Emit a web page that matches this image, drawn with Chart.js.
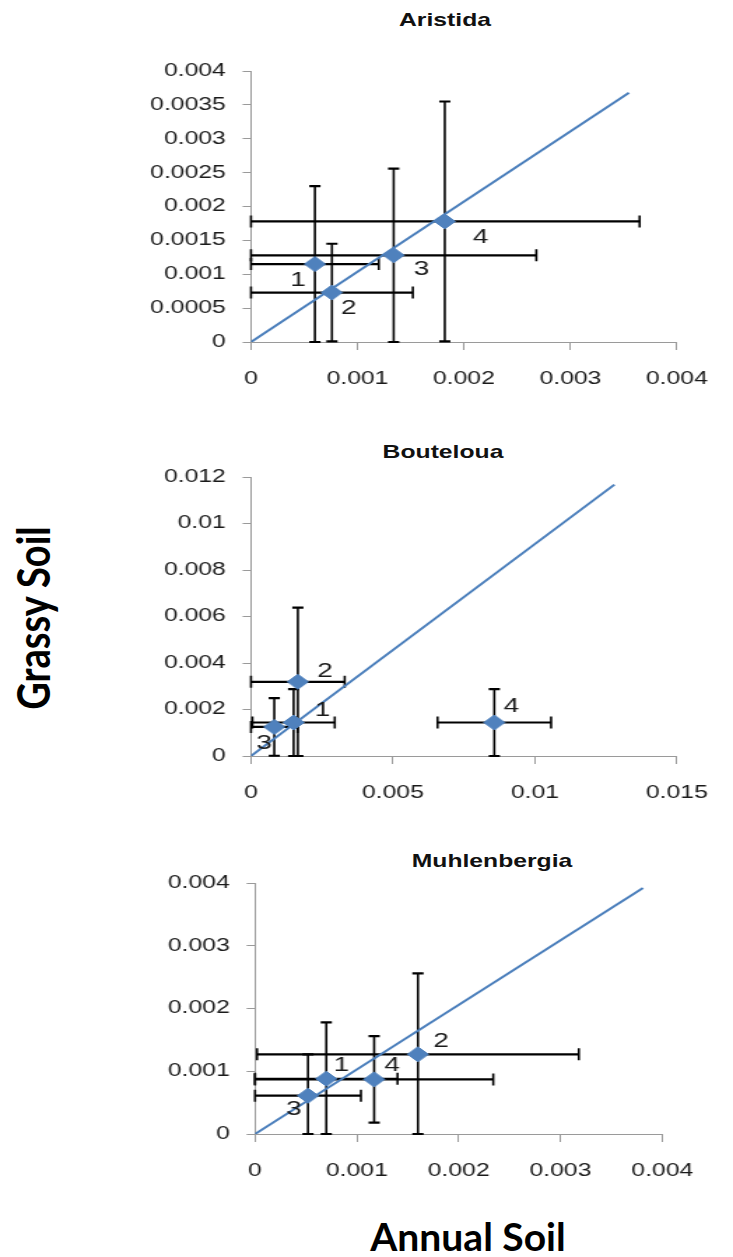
<!DOCTYPE html>
<html>
<head>
<meta charset="utf-8">
<script src="https://cdn.jsdelivr.net/npm/chart.js@4/dist/chart.umd.min.js"></script>
<style>
  body { margin: 0; background: #fff; width: 733px; height: 1257px; position: relative; overflow: hidden; }
  canvas { position: absolute; left: 0; }
  .ttl { position: absolute; font-family: "Liberation Sans", Arial, sans-serif; font-weight: bold; font-size: 19px; line-height: 1; white-space: nowrap; color: #111;
         transform: translate(-50%, -50%) scaleX(1.3); }
  .big { position: absolute; font-family: Lato, "Open Sans", sans-serif; font-weight: bold; line-height: 1; white-space: nowrap; color: #000; }
</style>
</head>
<body>
<div class="ttl" style="left:445px; top:19px;">Aristida</div>
<div class="ttl" style="left:443px; top:451px;">Bouteloua</div>
<div class="ttl" style="left:492px; top:860px;">Muhlenbergia</div>
<div class="big" id="ylab" style="left:32px; top:618px; font-size:38px; transform: translate(-50%, -50%) rotate(-90deg) scaleY(1.2);">Grassy Soil</div>
<div class="big" id="xlab" style="left:468px; top:1236px; font-size:39px; transform: translate(-50%, -50%);">Annual Soil</div>

<canvas id="c1" width="524" height="351" style="top:46px; width:733px; height:351px;"></canvas>
<canvas id="c2" width="524" height="359" style="top:452px; width:733px; height:359px;"></canvas>
<canvas id="c3" width="524" height="331" style="top:858px; width:733px; height:331px;"></canvas>

<script>
// point numbers shown beside each marker
const pointLabels = ['1', '2', '3', '4'];

// Aristida
const aristidaX = [0.00060, 0.00076, 0.00134, 0.00182];
const aristidaY = [0.00115, 0.00073, 0.00128, 0.00178];
const aristidaXErr = [0.00060, 0.00076, 0.00134, 0.00183];
const aristidaYErr = [0.00115, 0.00072, 0.00128, 0.00177];
const aristidaLineEnd = [0.00355, 0.00368];
const aristidaXTicks = ['0', '0.001', '0.002', '0.003', '0.004'];
const aristidaYTicks = ['0', '0.0005', '0.001', '0.0015', '0.002', '0.0025', '0.003', '0.0035', '0.004'];

// Bouteloua
const boutelouaX = [0.00150, 0.00165, 0.00082, 0.00857];
const boutelouaY = [0.00144, 0.00319, 0.00125, 0.00144];
const boutelouaXErr = [0.00145, 0.00165, 0.00082, 0.00200];
const boutelouaYErr = [0.00144, 0.00319, 0.00124, 0.00144];
const boutelouaLineEnd = [0.0128, 0.01167];
const boutelouaXTicks = ['0', '0.005', '0.01', '0.015'];
const boutelouaYTicks = ['0', '0.002', '0.004', '0.006', '0.008', '0.01', '0.012'];

// Muhlenbergia
const muhlenbergiaX = [0.00070, 0.00160, 0.00052, 0.00117];
const muhlenbergiaY = [0.00088, 0.00127, 0.00061, 0.00087];
const muhlenbergiaXErr = [0.00070, 0.00158, 0.00052, 0.00117];
const muhlenbergiaYErr = [0.00090, 0.00129, 0.00066, 0.00069];
const muhlenbergiaLineEnd = [0.00381, 0.00392];
const muhlenbergiaXTicks = ['0', '0.001', '0.002', '0.003', '0.004'];
const muhlenbergiaYTicks = ['0', '0.001', '0.002', '0.003', '0.004'];

// the original picture is stretched sideways, so the canvases are too
const STRETCH = 733 / 524;
const FONT = '"Liberation Sans", Arial, sans-serif';

// error bars under the markers, numbers on top
const errorBarPlugin = {
  id: 'errorBars',
  beforeDatasetsDraw(chart, args, opts) {
    const {ctx, scales: {x, y}} = chart;
    ctx.save();
    ctx.strokeStyle = '#000';
    opts.xs.forEach((xv, i) => {
      const yv = opts.ys[i];
      const px = x.getPixelForValue(xv), py = y.getPixelForValue(yv);
      // horizontal bar
      const x0 = x.getPixelForValue(Math.max(xv - opts.xErr[i], x.min));
      const x1 = x.getPixelForValue(Math.min(xv + opts.xErr[i], x.max));
      ctx.lineWidth = 2.2;
      ctx.beginPath();
      ctx.moveTo(x0, py); ctx.lineTo(x1, py);
      ctx.stroke();
      ctx.lineWidth = 1.6;
      ctx.beginPath();
      ctx.moveTo(x0, py - 6); ctx.lineTo(x0, py + 6);
      ctx.moveTo(x1, py - 6); ctx.lineTo(x1, py + 6);
      ctx.stroke();
      // vertical bar
      const y0 = y.getPixelForValue(Math.max(yv - opts.yErr[i], y.min));
      const y1 = y.getPixelForValue(Math.min(yv + opts.yErr[i], y.max));
      ctx.lineWidth = 1.6;
      ctx.beginPath();
      ctx.moveTo(px, y0); ctx.lineTo(px, y1);
      ctx.stroke();
      ctx.lineWidth = 2.2;
      ctx.beginPath();
      ctx.moveTo(px - 4, y0); ctx.lineTo(px + 4, y0);
      ctx.moveTo(px - 4, y1); ctx.lineTo(px + 4, y1);
      ctx.stroke();
    });
    ctx.restore();
  },
  afterDatasetsDraw(chart, args, opts) {
    const {ctx, scales: {x, y}} = chart;
    ctx.save();
    ctx.font = '20px ' + FONT;
    ctx.fillStyle = '#1a1a1a';
    ctx.textAlign = 'center';
    ctx.textBaseline = 'middle';
    opts.xs.forEach((xv, i) => {
      const off = opts.labelOffsets[i];
      ctx.fillText(pointLabels[i],
        x.getPixelForValue(xv) + off[0] / STRETCH,
        y.getPixelForValue(opts.ys[i]) + off[1]);
    });
    ctx.restore();
  }
};

function makeChart(id, cfg) {
  const tickFont = {family: FONT, size: 17.7};
  return new Chart(document.getElementById(id), {
    type: 'scatter',
    data: {
      datasets: [
        {
          data: cfg.xs.map((v, i) => ({x: v, y: cfg.ys[i]})),
          pointStyle: 'rectRot',
          pointRadius: 7.5,
          pointHoverRadius: 7.5,
          backgroundColor: '#4F81BD',
          borderColor: '#4F81BD',
          borderWidth: 1
        },
        {
          data: [{x: 0, y: 0}, {x: cfg.lineEnd[0], y: cfg.lineEnd[1]}],
          showLine: true,
          pointRadius: 0,
          borderColor: '#4A7EBB',
          borderWidth: 2
        }
      ]
    },
    options: {
      responsive: false,
      animation: false,
      devicePixelRatio: 1,
      layout: {padding: {top: 25, left: 0, right: cfg.padRight, bottom: 5}},
      plugins: {
        legend: {display: false},
        tooltip: {enabled: false},
        errorBars: {xs: cfg.xs, ys: cfg.ys, xErr: cfg.xErr, yErr: cfg.yErr, labelOffsets: cfg.labelOffsets}
      },
      scales: {
        x: {
          type: 'linear',
          min: 0,
          max: Number(cfg.xTicks[cfg.xTicks.length - 1]),
          afterBuildTicks: s => { s.ticks = cfg.xTicks.map(t => ({value: Number(t)})); },
          afterFit: s => { s.height = 50; },
          ticks: {callback: (v, i) => cfg.xTicks[i], color: '#1a1a1a', font: tickFont, padding: 18, maxRotation: 0, autoSkip: false},
          grid: {drawOnChartArea: false, drawTicks: true, tickLength: 8, color: '#9a9a9a'},
          border: {color: '#9a9a9a', width: 1}
        },
        y: {
          type: 'linear',
          min: 0,
          max: Number(cfg.yTicks[cfg.yTicks.length - 1]),
          afterBuildTicks: s => { s.ticks = cfg.yTicks.map(t => ({value: Number(t)})); },
          afterFit: s => { s.width = cfg.leftEdge; },
          ticks: {callback: (v, i) => cfg.yTicks[i], color: '#1a1a1a', font: tickFont, padding: 12, autoSkip: false},
          grid: {drawOnChartArea: false, drawTicks: true, tickLength: 6, color: '#9a9a9a'},
          border: {color: '#9a9a9a', width: 1}
        }
      }
    },
    plugins: [errorBarPlugin]
  });
}

makeChart('c1', {
  xs: aristidaX, ys: aristidaY, xErr: aristidaXErr, yErr: aristidaYErr,
  lineEnd: aristidaLineEnd, xTicks: aristidaXTicks, yTicks: aristidaYTicks,
  leftEdge: 251 / STRETCH, padRight: 524 - 699 / STRETCH,
  labelOffsets: [[-17, 16], [17, 16], [28, 14], [36, 16]]
});
makeChart('c2', {
  xs: boutelouaX, ys: boutelouaY, xErr: boutelouaXErr, yErr: boutelouaYErr,
  lineEnd: boutelouaLineEnd, xTicks: boutelouaXTicks, yTicks: boutelouaYTicks,
  leftEdge: 251 / STRETCH, padRight: 524 - 690 / STRETCH,
  labelOffsets: [[29, -12], [27, -10], [-10, 17], [17, -16]]
});
makeChart('c3', {
  xs: muhlenbergiaX, ys: muhlenbergiaY, xErr: muhlenbergiaXErr, yErr: muhlenbergiaYErr,
  lineEnd: muhlenbergiaLineEnd, xTicks: muhlenbergiaXTicks, yTicks: muhlenbergiaYTicks,
  leftEdge: 255 / STRETCH, padRight: 524 - 662.3 / STRETCH,
  labelOffsets: [[15, -13], [23, -13], [-14, 14], [18, -14]]
});
</script>
</body>
</html>
